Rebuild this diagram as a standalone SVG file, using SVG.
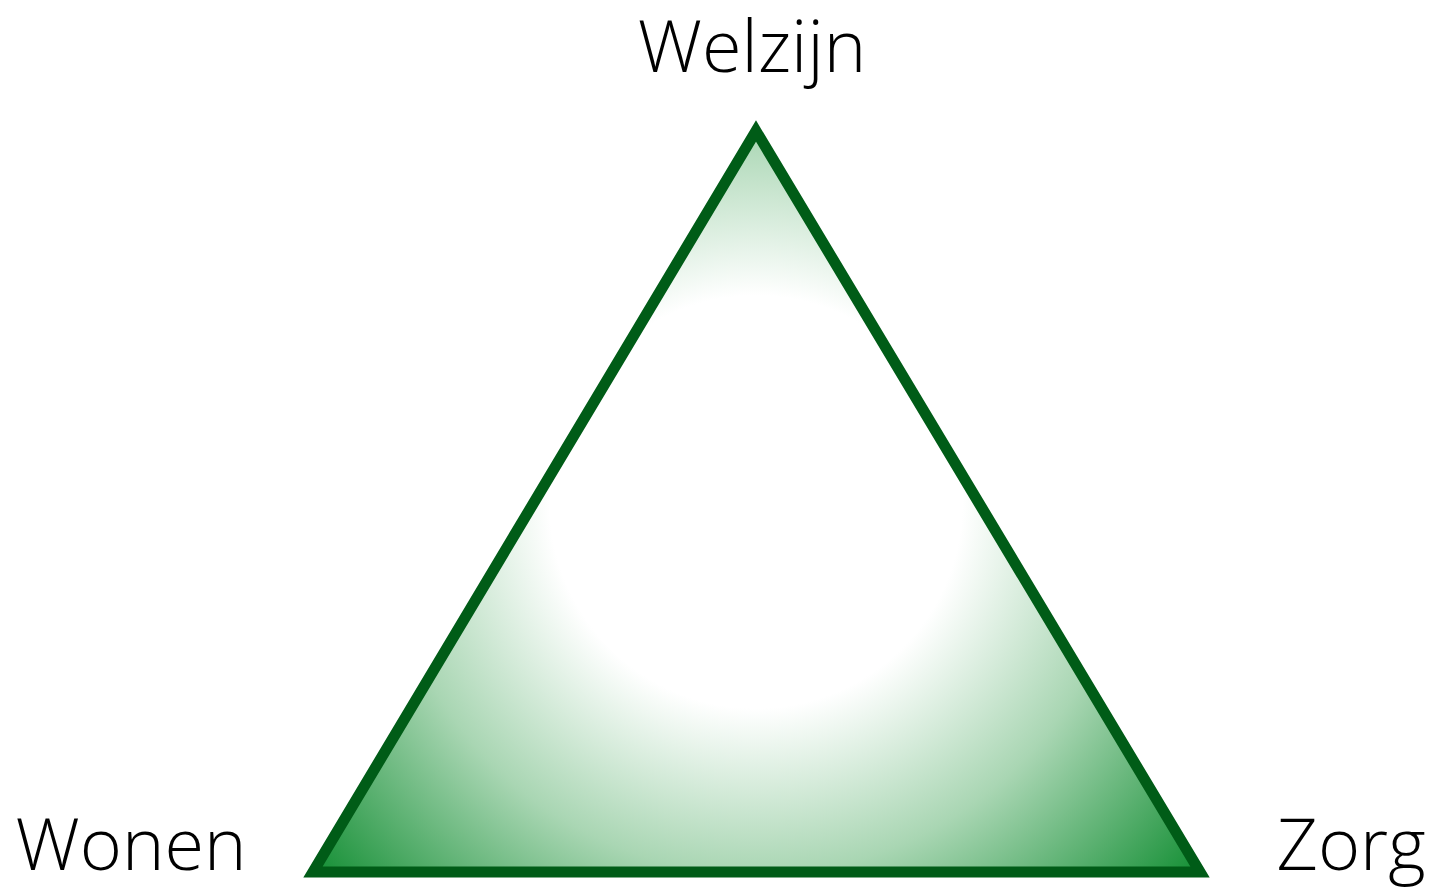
<svg xmlns="http://www.w3.org/2000/svg" width="1435" height="887" viewBox="0 0 1435 887">
<style>
.lbl{font-family:"Open Sans","Liberation Sans",sans-serif;font-weight:300;font-size:72px;fill:#000}
</style>
<defs>
<radialGradient id="g" gradientUnits="userSpaceOnUse" cx="756" cy="502" r="590">
<stop offset="0" stop-color="#ffffff"/>
<stop offset="0.35" stop-color="#ffffff"/>
<stop offset="0.63" stop-color="#a9d6b3"/>
<stop offset="1" stop-color="#0a8a2c"/>
</radialGradient>
</defs>
<g id="triangle">
<path d="M756 131 L1200 872 L313 872 Z" fill="url(#g)" stroke="#005c17" stroke-width="11" stroke-linejoin="miter" stroke-miterlimit="10"/>
</g>
<g id="welzijn"><text class="lbl" x="752" y="72" text-anchor="middle">Welzijn</text></g>
<g id="wonen"><text class="lbl" x="131" y="870" text-anchor="middle">Wonen</text></g>
<g id="zorg"><text class="lbl" x="1351" y="870" text-anchor="middle">Zorg</text></g>
<g id="connectors"/>
</svg>
